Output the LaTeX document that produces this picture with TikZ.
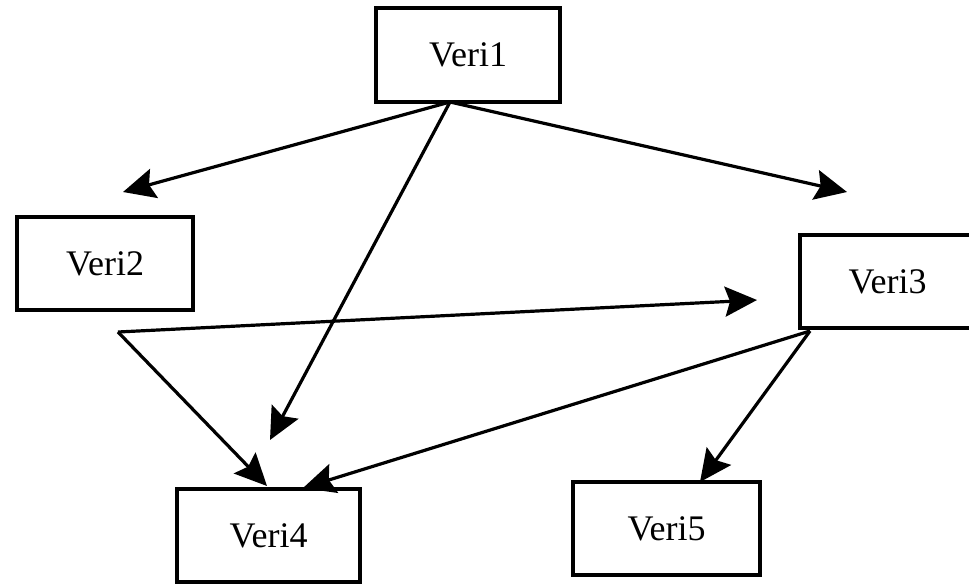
\documentclass[tikz,border=0pt]{standalone}
\usepackage{fontspec}
\setmainfont{Liberation Serif}
\usetikzlibrary{arrows.meta}
\begin{document}
\begin{tikzpicture}[x=1pt,y=-1pt,
  box/.style={draw,line width=3.4pt,minimum width=#1,minimum height=93pt,inner sep=0pt,
    font=\fontsize{36}{44}\selectfont},
  arr/.style={line width=3.2pt,-{Stealth[length=32pt,width=30pt,inset=5pt]}}]
\useasboundingbox (0,0) rectangle (969,584);
% boxes
\node[box=184pt,minimum height=94pt] (v1) at (468,55) {Veri1};
\node[box=176pt] (v2) at (105,263.5) {Veri2};
\node[box=175pt] (v3) at (887.5,281.5) {Veri3};
\node[box=183pt] (v4) at (268.5,535.5) {Veri4};
\node[box=187pt] (v5) at (666.5,528.5) {Veri5};
% connector ends
\coordinate (s1) at (450,102);
\coordinate (t12) at (123,192);
\coordinate (t13) at (847,192);
\coordinate (t14) at (270,440);
\coordinate (s2) at (118,332);
\coordinate (t23) at (757,300);
\coordinate (t24) at (267,486);
\coordinate (s3) at (810,331);
\coordinate (t34) at (303,488);
\coordinate (t35) at (700,482);
% connectors
\draw[arr] (s1) -- (t12);
\draw[arr] (s1) -- (t14);
\draw[arr] (s1) -- (t13);
\draw[arr] (s2) -- (t23);
\draw[arr] (s2) -- (t24);
\draw[arr] (s3) -- (t34);
\draw[arr] (s3) -- (t35);
\end{tikzpicture}
\end{document}
